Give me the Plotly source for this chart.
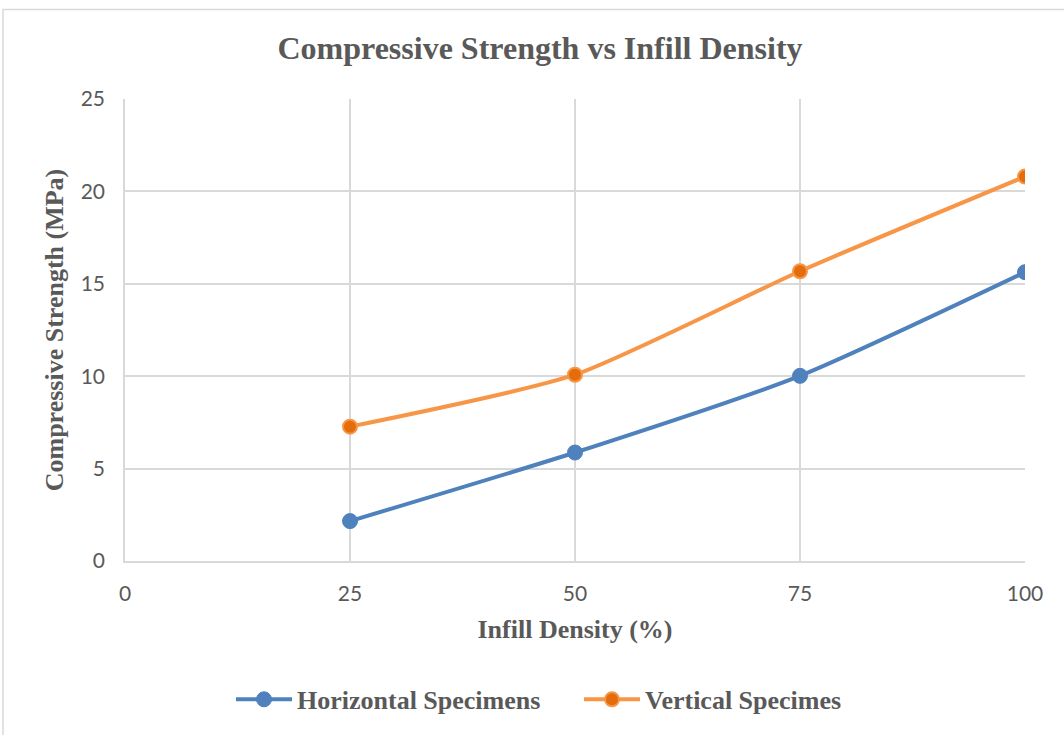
import plotly.graph_objects as go

# Infill density (%) and measured compressive strength (MPa)
infill_density = [25, 50, 75, 100]
horizontal_strength = [2.16, 5.87, 10.02, 15.63]
vertical_strength = [7.27, 10.08, 15.68, 20.8]

x_ticks = [0, 25, 50, 75, 100]
y_ticks = [0, 5, 10, 15, 20, 25]

W, H = 1064, 735
L, R, T, B = 125, 39, 99, 172
PW, PH = W - L - R, H - T - B


def px_x(p):
    return (p - L) / PW


def px_y(p):
    return (H - B - p) / PH


serif = "Liberation Serif, Times New Roman, serif"
sans = "Lato, Calibri, sans-serif"
grey_text = "#595959"
grid = "#D9D9D9"

fig = go.Figure()
fig.add_trace(go.Scatter(
    x=infill_density, y=horizontal_strength, name="<b>Horizontal Specimens</b>",
    mode="lines+markers",
    line=dict(color="#4F81BD", width=4, shape="spline", smoothing=0.6),
    marker=dict(color="#4F81BD", size=15, line=dict(color="#4F81BD", width=1)),
))
fig.add_trace(go.Scatter(
    x=infill_density, y=vertical_strength, name="<b>Vertical Specimes</b>",
    mode="lines+markers",
    line=dict(color="#F79646", width=4, shape="spline", smoothing=0.6),
    marker=dict(color="#E46C0A", size=14, line=dict(color="#F79646", width=2)),
))

# outer chart frame
fig.add_shape(type="rect", xref="paper", yref="paper",
              x0=px_x(3), x1=px_x(W + 10), y0=px_y(H + 10), y1=px_y(9),
              line=dict(color=grid, width=1.5), fillcolor="rgba(0,0,0,0)",
              layer="below")

fig.update_layout(
    width=W, height=H,
    margin=dict(l=L, r=R, t=T, b=B),
    paper_bgcolor="white", plot_bgcolor="white",
    title=dict(text="<b>Compressive Strength vs Infill Density</b>",
               x=px_x(540), xanchor="center", xref="paper",
               y=1 - 48 / H, yanchor="middle",
               font=dict(family=serif, size=32, color=grey_text)),
    showlegend=True,
    legend=dict(orientation="h", x=px_x(231), xanchor="left",
                y=px_y(702), yanchor="middle",
                font=dict(family=serif, size=26, color=grey_text),
                itemwidth=56, entrywidth=277, bgcolor="rgba(0,0,0,0)"),
)

fig.update_xaxes(
    range=[0, 100], tickvals=x_ticks, ticktext=[str(v) for v in x_ticks],
    showgrid=True, gridcolor=grid, gridwidth=1.5,
    showline=True, linecolor=grid, linewidth=1.5,
    zeroline=False, ticks="", ticklabelstandoff=13,
    tickfont=dict(family=sans, size=21, color=grey_text),
    title=dict(text="<b>Infill Density (%)</b>", standoff=16,
               font=dict(family=serif, size=26, color=grey_text)),
)
fig.update_yaxes(
    range=[0, 25], tickvals=y_ticks, ticktext=[str(v) for v in y_ticks],
    showgrid=True, gridcolor=grid, gridwidth=1.5,
    showline=True, linecolor=grid, linewidth=1.5,
    zeroline=False, ticks="", ticklabelstandoff=14,
    tickfont=dict(family=sans, size=21, color=grey_text),
    title=dict(text="<b>Compressive Strength (MPa)</b>", standoff=10,
               font=dict(family=serif, size=26, color=grey_text)),
)

fig.write_html("out.html")
